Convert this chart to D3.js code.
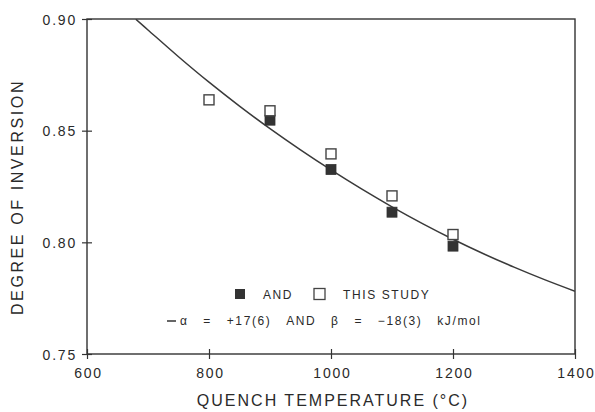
<!DOCTYPE html>
<html>
<head>
<meta charset="utf-8">
<script src="https://cdn.jsdelivr.net/npm/d3@7"></script>
<style>
  html, body { margin: 0; padding: 0; background: #fff; }
  svg { display: block; font-family: "Liberation Sans", Arial, Helvetica, sans-serif; }
  text { fill: #2a2a2a; }
</style>
</head>
<body>
<svg id="chart" width="595" height="412"></svg>
<script>
// ---- data ----
const xTicks = [600, 800, 1000, 1200, 1400];
const yTicks = [0.75, 0.80, 0.85, 0.90];
const studyTemps = [800, 900, 1000, 1100, 1200];
const studyValues = [0.8638, 0.8589, 0.8396, 0.8208, 0.8035];
const andTemps = [900, 1000, 1100, 1200];
const andValues = [0.8547, 0.8326, 0.8135, 0.7983];
const curveTemps = [680, 700, 750, 800, 850, 900, 950, 1000, 1050, 1100, 1150, 1200, 1250, 1300, 1350, 1400];
const curveValues = [0.8999, 0.8951, 0.8831, 0.8717, 0.8610, 0.8509, 0.8414, 0.8324, 0.8239, 0.8159, 0.8084, 0.8014, 0.7949, 0.7889, 0.7833, 0.7781];
const xLabel = "QUENCH TEMPERATURE (°C)";
const yLabel = "DEGREE OF INVERSION";
const legendLine1 = ["AND", "THIS STUDY"];
const legendLine2 = "α   =   +17(6)   AND   β   =   −18(3)   kJ/mol";

// ---- layout ----
const L = 87, R = 575, T = 19, B = 354;
const ink = "#333";
const svg = d3.select("#chart");
const x = d3.scaleLinear().domain([600, 1400]).range([L, R]);
const y = d3.scaleLinear().domain([0.75, 0.90]).range([B, T]);

svg.append("defs").append("clipPath").attr("id", "clip")
  .append("rect").attr("x", L).attr("y", T).attr("width", R - L).attr("height", B - T);

// frame
svg.append("rect").attr("x", L).attr("y", T).attr("width", R - L).attr("height", B - T)
  .attr("fill", "none").attr("stroke", ink).attr("stroke-width", 1.4);

// x axis
const gx = svg.append("g").attr("transform", `translate(0,${B})`)
  .call(d3.axisBottom(x).tickValues(xTicks).tickFormat(d3.format("d")).tickSize(5));
gx.select(".domain").remove();
gx.selectAll(".tick line").attr("y1", -5).attr("y2", 5).attr("stroke", ink).attr("stroke-width", 1.2);
gx.selectAll(".tick text").attr("y", 14).attr("dy", "0.71em")
  .attr("dx", 1).style("font-size", "14px").style("letter-spacing", "1.8px")
  .attr("fill", "#2a2a2a").attr("font-family", null);

// y axis
const gy = svg.append("g").attr("transform", `translate(${L},0)`)
  .call(d3.axisLeft(y).tickValues(yTicks).tickFormat(d3.format(".2f")).tickSize(5));
gy.select(".domain").remove();
gy.selectAll(".tick line").attr("x1", -5).attr("x2", 5).attr("stroke", ink).attr("stroke-width", 1.2);
gy.selectAll(".tick text").attr("x", -10).attr("dy", "0.36em")
  .style("font-size", "14px").style("letter-spacing", "1.8px")
  .attr("fill", "#2a2a2a").attr("font-family", null);

// axis titles
svg.append("text").attr("x", 333).attr("y", 406).attr("text-anchor", "middle")
  .style("font-size", "16px").style("letter-spacing", "2px").text(xLabel);
svg.append("text").attr("transform", `translate(23,197) rotate(-90)`).attr("text-anchor", "middle")
  .style("font-size", "16px").style("letter-spacing", "2.6px").text(yLabel);

// curve
const line = d3.line().x((d, i) => x(curveTemps[i])).y(d => y(d)).curve(d3.curveCatmullRom);
svg.append("path").attr("clip-path", "url(#clip)").datum(curveValues)
  .attr("d", line).attr("fill", "none").attr("stroke", "#3a3a3a").attr("stroke-width", 1.5);

// points
const s = 10;
svg.append("g").selectAll("rect").data(andValues).join("rect")
  .attr("x", (d, i) => x(andTemps[i]) - s / 2).attr("y", d => y(d) - s / 2)
  .attr("width", s).attr("height", s).attr("fill", "#333").attr("stroke", "#333").attr("stroke-width", 0.8);
svg.append("g").selectAll("rect").data(studyValues).join("rect")
  .attr("x", (d, i) => x(studyTemps[i]) - s / 2).attr("y", d => y(d) - s / 2)
  .attr("width", s).attr("height", s).attr("fill", "#fff").attr("stroke", "#444").attr("stroke-width", 1.4);

// legend
const lg = svg.append("g");
lg.append("rect").attr("x", 235).attr("y", 289).attr("width", 10).attr("height", 10).attr("fill", "#333");
lg.append("text").attr("x", 263).attr("y", 299).style("font-size", "12px").style("letter-spacing", "1.6px").text(legendLine1[0]);
lg.append("rect").attr("x", 314).attr("y", 288.5).attr("width", 11).attr("height", 11)
  .attr("fill", "#fff").attr("stroke", "#444").attr("stroke-width", 1.3);
lg.append("text").attr("x", 343).attr("y", 299).style("font-size", "12px").style("letter-spacing", "1.6px").text(legendLine1[1]);
lg.append("line").attr("x1", 167).attr("x2", 176).attr("y1", 321).attr("y2", 321).attr("stroke", "#333").attr("stroke-width", 1.5);
lg.append("text").attr("x", 180).attr("y", 325).style("font-size", "12px").style("letter-spacing", "1.6px")
  .style("white-space", "pre").attr("xml:space", "preserve").text(legendLine2);
</script>
</body>
</html>
